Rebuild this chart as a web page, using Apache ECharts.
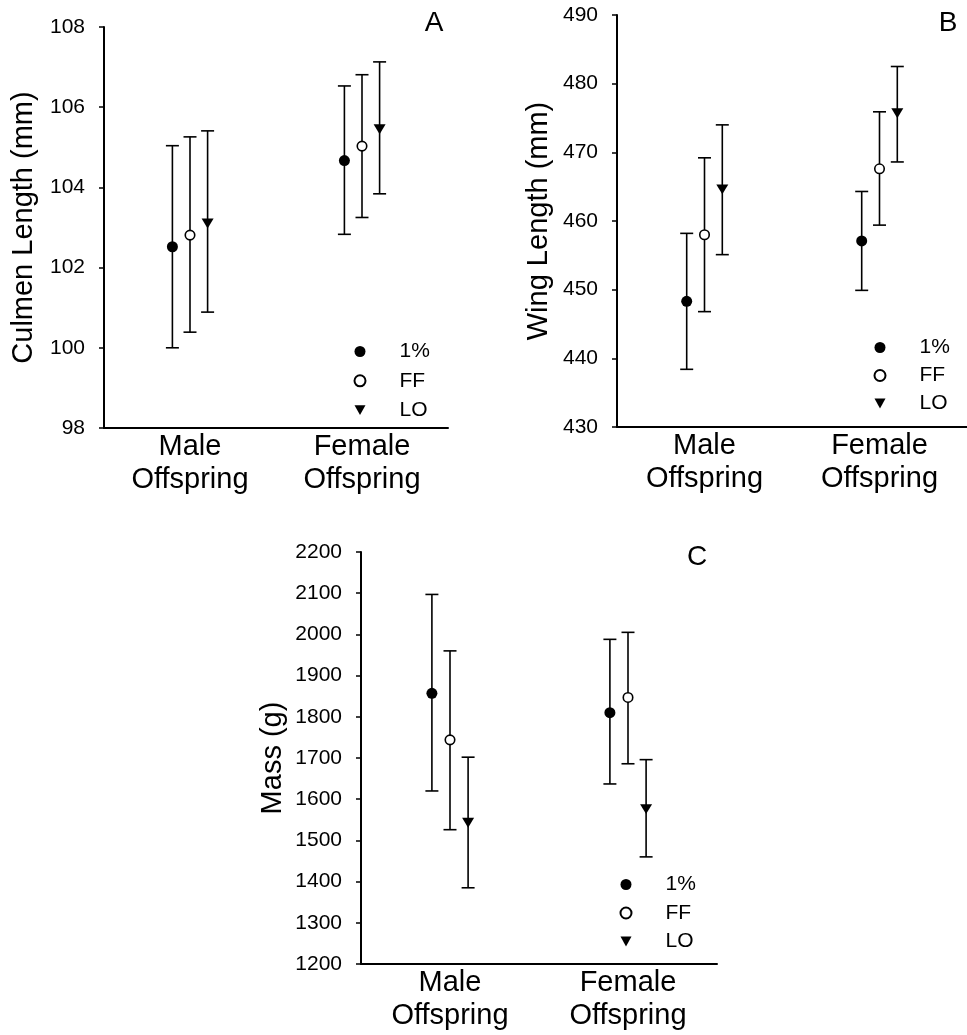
<!DOCTYPE html>
<html>
<head>
<meta charset="utf-8">
<script src="https://cdn.jsdelivr.net/npm/echarts@6/dist/echarts.min.js"></script>
<style>
html,body{margin:0;padding:0;background:#fff;}
#chart{width:967px;height:1035px;}
</style>
</head>
<body>
<div id="chart"></div>
<script>
// ---- data ----
const categories = ['Male\nOffspring', 'Female\nOffspring'];
const seriesNames = ['1%', 'FF', 'LO'];

// Panel A: Culmen length (mm) ; rows = series (1%, FF, LO), cols = categories
const culmenMean = [[102.52, 104.67], [102.81, 105.03], [103.10, 105.45]];
const culmenLow  = [[100.00, 102.83], [100.39, 103.25], [100.89, 103.84]];
const culmenHigh = [[105.04, 106.53], [105.26, 106.81], [105.41, 107.13]];
const culmenTicks = { min: 98, max: 108, interval: 2 };

// Panel B: Wing length (mm)
const wingMean = [[448.3, 457.1], [458.0, 467.6], [464.6, 475.7]];
const wingLow  = [[438.4, 449.9], [446.8, 459.4], [455.1, 468.6]];
const wingHigh = [[458.2, 464.3], [469.2, 475.9], [474.0, 482.5]];
const wingTicks = { min: 430, max: 490, interval: 10 };

// Panel C: Mass (g)
const massMean = [[1857, 1810], [1744, 1847], [1543, 1576]];
const massLow  = [[1620, 1637], [1526, 1686], [1385, 1460]];
const massHigh = [[2097, 1988], [1960, 2005], [1702, 1696]];
const massTicks = { min: 1200, max: 2200, interval: 100 };

// ---- styling ----
const FONT = 'Liberation Sans, Arial, sans-serif';
const symbols = ['circle', 'circle', 'path://M0,0L10,0L5,9Z'];
const symbolSizes = [11, 9.5, [12, 11]];
const itemStyles = [
  { color: '#000', opacity: 1 },
  { color: '#fff', borderColor: '#000', borderWidth: 1.6, opacity: 1 },
  { color: '#000', opacity: 1 }
];

function errorBarRender(offset) {
  return function (params, api) {
    const x = api.value(0);
    const lo = api.coord([x, api.value(1)]);
    const hi = api.coord([x, api.value(2)]);
    const cx = lo[0] + offset;
    const half = 6.5;
    const st = { stroke: '#000', lineWidth: 1.6 };
    return {
      type: 'group',
      children: [
        { type: 'line', shape: { x1: cx, y1: hi[1], x2: cx, y2: lo[1] }, style: st },
        { type: 'line', shape: { x1: cx - half, y1: hi[1], x2: cx + half, y2: hi[1] }, style: st },
        { type: 'line', shape: { x1: cx - half, y1: lo[1], x2: cx + half, y2: lo[1] }, style: st }
      ]
    };
  };
}

const panels = [
  { grid: { left: 104, top: 27, width: 344, height: 401 }, name: 'Culmen Length (mm)', nameGap: 66,
    ticks: culmenTicks, mean: culmenMean, low: culmenLow, high: culmenHigh, step: 17.6 },
  { grid: { left: 617, top: 15, width: 352, height: 412 }, name: 'Wing Length (mm)', nameGap: 64,
    ticks: wingTicks, mean: wingMean, low: wingLow, high: wingHigh, step: 17.8 },
  { grid: { left: 361, top: 552, width: 356, height: 412 }, name: 'Mass (g)', nameGap: 74,
    ticks: massTicks, mean: massMean, low: massLow, high: massHigh, step: 18.1 }
];

const grids = [], xAxes = [], yAxes = [], series = [];
panels.forEach(function (p, gi) {
  grids.push(Object.assign({ containLabel: false }, p.grid));
  xAxes.push({
    type: 'category', gridIndex: gi, data: categories,
    axisLine: { lineStyle: { color: '#000', width: 2 } },
    axisTick: { show: false },
    axisLabel: { color: '#000', fontSize: 29, lineHeight: 33, margin: 2, interval: 0, fontFamily: FONT },
    splitLine: { show: false }
  });
  yAxes.push({
    type: 'value', gridIndex: gi,
    min: p.ticks.min, max: p.ticks.max, interval: p.ticks.interval,
    name: p.name, nameLocation: 'middle', nameGap: p.nameGap,
    nameTextStyle: { color: '#000', fontSize: 29, fontFamily: FONT },
    axisLine: { show: true, lineStyle: { color: '#000', width: 2 } },
    axisTick: { show: true, length: 5, lineStyle: { color: '#000', width: 1.5 } },
    axisLabel: { color: '#000', fontSize: 21, margin: 19, fontFamily: FONT,
      formatter: function (v) { return String(v); } },
    splitLine: { show: false }
  });
  seriesNames.forEach(function (sn, si) {
    const off = (si - 1) * p.step;
    series.push({
      type: 'custom', xAxisIndex: gi, yAxisIndex: gi, silent: true, z: 1,
      renderItem: errorBarRender(off),
      encode: { x: 0, y: [1, 2] },
      data: categories.map(function (c, ci) { return [ci, p.low[si][ci], p.high[si][ci]]; })
    });
  });
  seriesNames.forEach(function (sn, si) {
    const off = (si - 1) * p.step;
    series.push({
      type: 'scatter', name: sn, xAxisIndex: gi, yAxisIndex: gi, z: 3,
      symbol: symbols[si], symbolSize: symbolSizes[si], symbolKeepAspect: true,
      symbolOffset: [off, 0],
      itemStyle: itemStyles[si],
      emphasis: { disabled: true },
      data: p.mean[si]
    });
  });
});

function makeLegend(left, top, gap) {
  return {
    data: seriesNames, orient: 'vertical', left: left, top: top,
    itemWidth: 11, itemHeight: 11, itemGap: gap, selectedMode: false, padding: 0,
    itemStyle: { opacity: 1 },
    textStyle: { color: '#000', fontSize: 21, lineHeight: 21, fontFamily: FONT, padding: [0, 0, 0, 29] }
  };
}

const option = {
  animation: false,
  backgroundColor: '#fff',
  textStyle: { fontFamily: FONT },
  grid: grids, xAxis: xAxes, yAxis: yAxes, series: series,
  legend: [makeLegend(353.5, 341, 8.3), makeLegend(873.5, 337, 7), makeLegend(619.5, 874, 7.5)],
  graphic: [
    { type: 'text', x: 434, y: 23, style: { text: 'A', font: '28px ' + FONT, textAlign: 'center', textVerticalAlign: 'middle', fill: '#000' } },
    { type: 'text', x: 948, y: 23, style: { text: 'B', font: '28px ' + FONT, textAlign: 'center', textVerticalAlign: 'middle', fill: '#000' } },
    { type: 'text', x: 697, y: 557, style: { text: 'C', font: '28px ' + FONT, textAlign: 'center', textVerticalAlign: 'middle', fill: '#000' } }
  ]
};

const chart = echarts.init(document.getElementById('chart'));
chart.setOption(option);
</script>
</body>
</html>
